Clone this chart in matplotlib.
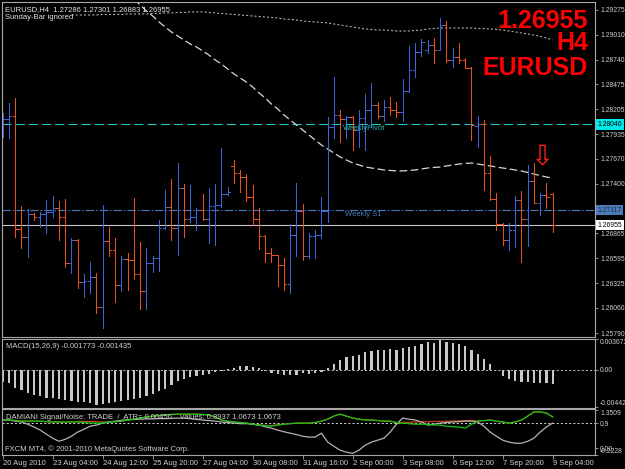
import matplotlib
matplotlib.use("Agg")
import matplotlib.pyplot as plt
import numpy as np

plt.rcParams['font.family'] = ['Liberation Sans', 'DejaVu Sans']
plt.rcParams['lines.scale_dashes'] = False

# EURUSD H4, 20 Aug 2010 00:00 .. 9 Sep 2010 04:00 (89 bars, Sunday bars included)
opens = [1.28067, 1.28099, 1.28131, 1.26912, 1.26826, 1.27074, 1.27042, 1.27074, 1.27096, 1.27139,
         1.27042, 1.26545, 1.26793, 1.26340, 1.26351, 1.26394, 1.26070, 1.26783, 1.26685, 1.26308,
         1.26588, 1.26578, 1.26427, 1.26243, 1.26545, 1.26599, 1.26923, 1.27149, 1.26923, 1.27355,
         1.27020, 1.27042, 1.27117, 1.27020, 1.27160, 1.27171, 1.27290, 1.27592, 1.27516, 1.27473,
         1.27257, 1.27020, 1.26837, 1.26653, 1.26631, 1.26524, 1.26319, 1.26847, 1.27106, 1.26621,
         1.26837, 1.26847, 1.27106, 1.28013, 1.28142, 1.28099, 1.28121, 1.27980, 1.28110, 1.28196,
         1.28250, 1.28131, 1.28228, 1.28196, 1.28175, 1.28401, 1.28628, 1.28822, 1.28843, 1.28897,
         1.28843, 1.29113, 1.28736, 1.28768, 1.28736, 1.28649, 1.28023, 1.28045, 1.27516, 1.27236,
         1.26966, 1.26793, 1.26901, 1.27225, 1.27020, 1.27430, 1.27193, 1.27279, 1.27286]
highs = [1.28164, 1.28272, 1.28326, 1.27160, 1.27128, 1.27085, 1.27096, 1.27225, 1.27268, 1.27214,
         1.27236, 1.26815, 1.26804, 1.26427, 1.26556, 1.26437, 1.27171, 1.26934, 1.26815, 1.26621,
         1.26653, 1.27247, 1.26772, 1.26707, 1.26621, 1.27009, 1.27333, 1.27452, 1.27624, 1.27398,
         1.27387, 1.27139, 1.27290, 1.27355, 1.27398, 1.27786, 1.27365, 1.27657, 1.27549, 1.27505,
         1.27387, 1.27139, 1.26847, 1.26707, 1.26631, 1.26599, 1.26966, 1.27408, 1.27182, 1.26869,
         1.26901, 1.27257, 1.28121, 1.28552, 1.28196, 1.28131, 1.28131, 1.28196, 1.28369, 1.28487,
         1.28283, 1.28304, 1.28336, 1.28283, 1.28531, 1.28887, 1.28919, 1.28962, 1.28951, 1.28973,
         1.29189, 1.29156, 1.28865, 1.28919, 1.28757, 1.28660, 1.28131, 1.28088, 1.27700, 1.27301,
         1.26977, 1.26977, 1.27268, 1.27322, 1.27603, 1.27624, 1.27301, 1.27408, 1.27301]
lows = [1.27905, 1.27894, 1.26826, 1.26707, 1.26610, 1.27009, 1.26934, 1.26869, 1.27042, 1.26793,
        1.26502, 1.26437, 1.26276, 1.26178, 1.26222, 1.26006, 1.25844, 1.26621, 1.26124, 1.26243,
        1.26254, 1.26373, 1.26049, 1.26049, 1.26448, 1.26459, 1.26912, 1.26793, 1.26631, 1.26826,
        1.26988, 1.26901, 1.27009, 1.26761, 1.26739, 1.27149, 1.27279, 1.27408, 1.27311, 1.27214,
        1.26955, 1.26696, 1.26556, 1.26556, 1.26297, 1.26254, 1.26222, 1.26621, 1.26578, 1.26599,
        1.26599, 1.26815, 1.26988, 1.27894, 1.27851, 1.27894, 1.27765, 1.27797, 1.27765, 1.28013,
        1.28110, 1.28077, 1.28142, 1.28121, 1.28077, 1.28390, 1.28552, 1.28779, 1.28811, 1.28703,
        1.28843, 1.28714, 1.28660, 1.28703, 1.28649, 1.27872, 1.27797, 1.27333, 1.27225, 1.26901,
        1.26739, 1.26685, 1.26718, 1.26556, 1.26729, 1.27193, 1.27063, 1.27139, 1.26883]
closes = [1.28099, 1.28131, 1.26912, 1.26826, 1.27074, 1.27042, 1.27074, 1.27096, 1.27139, 1.27042,
          1.26545, 1.26793, 1.26340, 1.26351, 1.26394, 1.26070, 1.26783, 1.26685, 1.26308, 1.26588,
          1.26578, 1.26427, 1.26243, 1.26545, 1.26599, 1.26923, 1.27149, 1.26923, 1.27355, 1.27020,
          1.27042, 1.27117, 1.27020, 1.27160, 1.27171, 1.27290, 1.27311, 1.27516, 1.27473, 1.27257,
          1.27020, 1.26837, 1.26653, 1.26631, 1.26524, 1.26319, 1.26847, 1.27106, 1.26621, 1.26837,
          1.26847, 1.27106, 1.28013, 1.28142, 1.28099, 1.28121, 1.27980, 1.28110, 1.28196, 1.28250,
          1.28131, 1.28228, 1.28196, 1.28175, 1.28401, 1.28628, 1.28822, 1.28930, 1.28897, 1.28843,
          1.29113, 1.28736, 1.28768, 1.28736, 1.28649, 1.28034, 1.28045, 1.27516, 1.27236, 1.26966,
          1.26793, 1.26901, 1.27225, 1.27020, 1.27430, 1.27193, 1.27279, 1.27257, 1.26955]

# long moving average (white dashed), bars 21..88
ma_slow_start = 21
ma_slow = [1.29394, 1.29329, 1.29264, 1.29210, 1.29146, 1.29092, 1.29038, 1.28995, 1.28951, 1.28908,
           1.28876, 1.28833, 1.28789, 1.28736, 1.28692, 1.28638, 1.28585, 1.28541, 1.28498, 1.28444,
           1.28380, 1.28326, 1.28261, 1.28207, 1.28142, 1.28088, 1.28034, 1.27980, 1.27926, 1.27872,
           1.27818, 1.27775, 1.27732, 1.27689, 1.27657, 1.27624, 1.27603, 1.27581, 1.27570, 1.27560,
           1.27549, 1.27544, 1.27538, 1.27538, 1.27544, 1.27549, 1.27560, 1.27570, 1.27576, 1.27581,
           1.27592, 1.27603, 1.27613, 1.27619, 1.27624, 1.27613, 1.27603, 1.27592, 1.27581, 1.27570,
           1.27560, 1.27549, 1.27538, 1.27522, 1.27505, 1.27489, 1.27473, 1.27462]
# upper dotted moving average, bars 11..88
ma_top_start = 11
ma_top = [1.29221, 1.29221, 1.29221, 1.29221, 1.29221, 1.29227, 1.29227, 1.29227, 1.29227, 1.29232,
          1.29232, 1.29232, 1.29232, 1.29237, 1.29237, 1.29243, 1.29243, 1.29248, 1.29248, 1.29254,
          1.29254, 1.29254, 1.29248, 1.29243, 1.29237, 1.29232, 1.29227, 1.29221, 1.29216, 1.29210,
          1.29205, 1.29200, 1.29194, 1.29189, 1.29178, 1.29173, 1.29167, 1.29156, 1.29151, 1.29146,
          1.29140, 1.29135, 1.29124, 1.29113, 1.29102, 1.29092, 1.29081, 1.29070, 1.29065, 1.29059,
          1.29059, 1.29054, 1.29048, 1.29048, 1.29048, 1.29054, 1.29059, 1.29070, 1.29075, 1.29081,
          1.29081, 1.29081, 1.29081, 1.29081, 1.29081, 1.29075, 1.29075, 1.29070, 1.29065, 1.29059,
          1.29048, 1.29038, 1.29027, 1.29016, 1.29005, 1.28989, 1.28973, 1.28951]

weekly_pivot = 1.28040
weekly_s1 = 1.27117
bid = 1.26955
price_ticks = [1.29275, 1.29010, 1.28740, 1.28475, 1.28205, 1.27935, 1.27670, 1.27400,
               1.26865, 1.26595, 1.26325, 1.26060, 1.25790]

macd = [-0.00143, -0.00164, -0.00217, -0.00245, -0.00274, -0.00307, -0.00319, -0.00335, -0.00340, -0.00348,
        -0.00360, -0.00372, -0.00380, -0.00389, -0.00401, -0.00421, -0.00409, -0.00397, -0.00389, -0.00376,
        -0.00364, -0.00348, -0.00340, -0.00319, -0.00286, -0.00258, -0.00225, -0.00184, -0.00135, -0.00115,
        -0.00094, -0.00082, -0.00070, -0.00053, -0.00033, -0.00012, 0.00004, 0.00020, 0.00037, 0.00041,
        0.00033, 0.00012, -0.00012, -0.00041, -0.00053, -0.00061, -0.00070, -0.00061, -0.00037, -0.00049,
        -0.00041, -0.00029, 0.00012, 0.00061, 0.00114, 0.00143, 0.00159, 0.00176, 0.00208, 0.00225,
        0.00229, 0.00237, 0.00241, 0.00237, 0.00249, 0.00266, 0.00282, 0.00307, 0.00323, 0.00319,
        0.00347, 0.00331, 0.00315, 0.00298, 0.00278, 0.00237, 0.00184, 0.00127, 0.00061, -0.00003,
        -0.00078, -0.00110, -0.00139, -0.00151, -0.00151, -0.00159, -0.00159, -0.00163, -0.00177]

dam_green = [1.01, 1.01, 0.99, 0.97, 0.97, 0.97, 0.97, 0.95, 0.94, 0.94,
             0.94, 0.94, 0.94, 0.92, 0.90, 0.90, 0.90, 0.94, 0.95, 0.97,
             1.01, 1.04, 1.08, 1.12, 1.15, 1.17, 1.19, 1.21, 1.22, 1.22,
             1.22, 1.22, 1.21, 1.19, 1.12, 1.01, 0.97, 0.94, 0.92, 0.90,
             0.86, 0.83, 0.81, 0.79, 0.83, 0.86, 0.88, 0.90, 0.90, 0.90,
             0.92, 0.97, 1.04, 1.15, 1.22, 1.15, 1.08, 1.04, 1.01, 1.01,
             0.99, 0.97, 0.97, 0.92, 0.90, 0.88, 0.86, 0.86, 0.85, 0.83,
             0.83, 0.79, 0.77, 0.76, 0.72, 0.86, 0.97, 0.99, 1.01, 0.97,
             0.94, 0.90, 0.94, 1.01, 1.15, 1.30, 1.30, 1.26, 1.12]
dam_gray = [1.01, 1.01, 0.97, 0.94, 0.86, 0.76, 0.65, 0.50, 0.36, 0.25,
            0.32, 0.43, 0.58, 0.68, 0.79, 0.83, 0.90, 0.94, 0.97, 1.00,
            1.02, 1.03, 1.04, 1.05, 1.05, 1.06, 1.06, 1.07, 1.08, 1.08,
            1.06, 1.03, 1.01, 0.99, 0.97, 0.94, 0.92, 0.90, 0.88, 0.88,
            0.86, 0.83, 0.77, 0.72, 0.65, 0.59, 0.54, 0.49, 0.43, 0.40,
            0.40, 0.54, 0.22, 0.07, -0.07, -0.14, -0.18, -0.07, 0.11, 0.22,
            0.29, 0.36, 0.58, 0.86, 1.08, 1.04, 1.01, 0.94, 0.83, 0.86,
            0.90, 0.92, 0.94, 0.95, 0.97, 0.97, 0.94, 0.79, 0.58, 0.43,
            0.29, 0.22, 0.18, 0.18, 0.25, 0.36, 0.58, 0.76, 0.90]
dam_red = [1.01, 1.01, 0.99, 0.97, 0.97, 0.97, 0.97, 0.95, 0.94, 0.94,
           0.94, 0.95, 0.96, 0.96, 0.96, 0.95, 0.94, 0.94, 0.95, 0.97,
           1.01, 1.04, 1.08, 1.12, 1.15, 1.17, 1.19, 1.21, 1.22, 1.22,
           1.22, 1.22, 1.21, 1.19, 1.12, 1.01, 0.97, 0.94, 0.92, 0.90,
           0.86, 0.83, 0.82, 0.81, 0.84, 0.86, 0.88, 0.90, 0.90, 0.90,
           0.92, 0.97, 1.04, 1.15, 1.22, 1.15, 1.08, 1.04, 1.01, 1.01,
           0.99, 0.97, 0.97, 0.92, 0.92, 0.93, 0.94, 0.95, 0.95, 0.96,
           0.96, 0.97, 0.97, 0.98, 0.99, 0.99, 0.98, 0.99, 1.01, 0.97,
           0.94, 0.90, 0.94, 1.01, 1.15, 1.30, 1.30, 1.26, 1.12]

time_ticks = [0, 8, 16, 24, 32, 40, 48, 56, 64, 72, 80, 88]
time_labels = ["20 Aug 2010", "23 Aug 04:00", "24 Aug 12:00", "25 Aug 20:00", "27 Aug 04:00",
               "30 Aug 08:00", "31 Aug 16:00", "2 Sep 00:00", "3 Sep 08:00", "6 Sep 12:00",
               "7 Sep 20:00", "9 Sep 04:00"]

UP = '#3c64d8'
DOWN = '#e8501c'
FRAME = '#a8a8a8'
TXT = '#d0d0d0'
FS = 5.5
FSA = 4.9   # right axis labels


def fx(px):
    return px / 625.0


def fy(py):
    return 1 - py / 469.0


fig = plt.figure(figsize=(6.25, 4.69), dpi=100, facecolor='black')
ax = fig.add_axes([fx(2), fy(337), fx(593), 335 / 469.0])
ax2 = fig.add_axes([fx(2), fy(407.5), fx(593), 69 / 469.0])
ax3 = fig.add_axes([fx(2), fy(454.5), fx(593), 45.5 / 469.0])

for a in (ax, ax2, ax3):
    a.set_facecolor('black')
    for s in a.spines.values():
        s.set_color(FRAME)
        s.set_linewidth(0.8)
    a.set_xlim(-0.11, 94.77)
    a.yaxis.tick_right()
    a.tick_params(axis='y', colors=FRAME, labelcolor=TXT, labelsize=FSA, length=2.5, width=0.6, pad=1.2)
    a.tick_params(axis='x', bottom=False, labelbottom=False)

# ---- price panel
x = np.arange(len(opens))
o = np.array(opens)
h = np.array(highs)
l = np.array(lows)
c = np.array(closes)
cols = [UP if cc >= oo else DOWN for oo, cc in zip(o, c)]

ax.set_ylim(1.25747, 1.29361)
ax.axhline(weekly_pivot, color='#22c8c8', lw=0.8, ls=(0, (6.5, 3)))
ax.axhline(weekly_s1, color='#4a7ab8', lw=0.8, ls=(0, (6, 1.5, 1, 1.5)))
ax.axhline(bid, color='#c8c8c8', lw=0.8)

xs = np.arange(ma_slow_start, ma_slow_start + len(ma_slow))
ax.plot(xs, ma_slow, color='#d8d8d8', lw=0.9, ls=(0, (5.5, 2.5)))
xt = np.arange(ma_top_start, ma_top_start + len(ma_top))
ax.plot(xt, ma_top, color='#b0b0b0', lw=0.8, ls=(0, (1.5, 1.5)))

ax.vlines(x, l, h, colors=cols, lw=0.7, antialiased=False)
ax.hlines(o, x - 0.4, x, colors=cols, lw=0.7, antialiased=False)
ax.hlines(c, x, x + 0.4, colors=cols, lw=0.7, antialiased=False)

ax.set_yticks(price_ticks)
ax.set_yticklabels([f'{v:.5f}' for v in price_ticks])

ytr = ax.get_yaxis_transform()
ax.text(1.004, weekly_pivot, f'{weekly_pivot:.5f}', transform=ytr, fontsize=FSA, color='black',
        va='center', ha='left', bbox=dict(boxstyle='square,pad=0.25', fc='#00e8e8', ec='none'))
ax.text(1.004, weekly_s1, f'{weekly_s1:.5f}', transform=ytr, fontsize=FSA, color='#203040',
        va='center', ha='left', bbox=dict(boxstyle='square,pad=0.25', fc='#4a7ab8', ec='none'))
ax.text(1.004, bid, f'{bid:.5f}', transform=ytr, fontsize=FSA, color='black',
        va='center', ha='left', bbox=dict(boxstyle='square,pad=0.25', fc='white', ec='none'))

ax.text(54.4, weekly_pivot - 0.0001, 'WeeklyPivot', color='#2ab8b0', fontsize=FS, va='top')
ax.text(54.8, weekly_s1 - 0.0001, 'Weekly S1', color='#4a7ab8', fontsize=FS, va='top')
ax.text(86.2, 1.27690, '\u21e9', color='#ff2020', fontsize=20, ha='center', va='center',
        family='DejaVu Sans')

fig.text(fx(5), fy(11), 'EURUSD,H4  1.27286 1.27301 1.26883 1.26955', color='#e6e6e6',
         fontsize=FS, va='baseline')
fig.text(fx(5), fy(19), 'Sunday-Bar ignored', color='#e6e6e6', fontsize=FS, va='baseline')
fig.text(fx(588), fy(28), '1.26955', color='#ff0000', fontsize=18, fontweight='bold',
         ha='right', va='baseline')
fig.text(fx(588), fy(50.5), 'H4', color='#ff0000', fontsize=18, fontweight='bold',
         ha='right', va='baseline')
fig.text(fx(588), fy(75), 'EURUSD', color='#ff0000', fontsize=18, fontweight='bold',
         ha='right', va='baseline')

# ---- MACD panel
ax2.set_ylim(-0.0045, 0.003673)
ax2.axhline(0, color='#c0c0c0', lw=0.7, ls=(0, (1.5, 1.5)))
ax2.bar(x, macd, width=0.34, color='#c8c8c8', linewidth=0)
ax2.set_yticks([0.003673, 0.0, -0.00442])
ax2.set_yticklabels(['0.003673', '0.00', '-0.00442'])
lab = ax2.get_yticklabels()
lab[0].set_va('top')
lab[2].set_va('bottom')
fig.text(fx(6), fy(348), 'MACD(15,26,9) -0.001773 -0.001435', color=TXT, fontsize=FS, va='baseline')

# ---- DAMIANI panel
ax3.set_ylim(-0.2228, 1.404)
ax3.axhline(0.9, color='#d0d0d0', lw=0.7, ls=(0, (1.5, 1.5)))
ax3.plot(x, dam_red, color='#c83c1e', lw=0.9)
ax3.plot(x, dam_gray, color='#b4b4b4', lw=0.9)
ax3.plot(x, dam_green, color='#10c810', lw=0.9)
ax3.set_yticks([1.3509, 0.9, 0.0, -0.2228])
ax3.set_yticklabels(['1.3509', '0.9', '0.00', '-0.2228'])
lab = ax3.get_yticklabels()
lab[0].set_va('top')
lab[3].set_va('bottom')
ax3.set_xticks(time_ticks)
ax3.set_xticklabels(time_labels, ha='left')
ax3.tick_params(axis='x', bottom=True, labelbottom=True, colors=FRAME, labelcolor=TXT,
                labelsize=FS, length=3, width=0.6, pad=1)
fig.text(fx(6), fy(419), 'DAMIANI Signal/Noise: TRADE  /  ATR= 0.00450    values: 0.8937 1.0673 1.0673',
         color=TXT, fontsize=FS, va='baseline')
fig.text(fx(5), fy(451), 'FXCM MT4, \u00a9 2001-2010 MetaQuotes Software Corp.', color=TXT,
         fontsize=FS, va='baseline')

fig.savefig('out.png', dpi=100, facecolor='black')
